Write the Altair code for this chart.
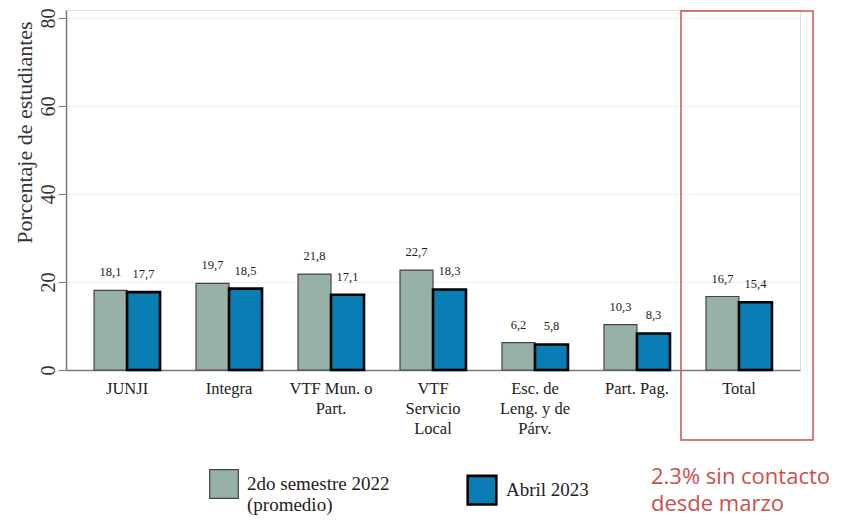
import altair as alt
import pandas as pd

categories = ["JUNJI", "Integra", "VTF Mun. o|Part.", "VTF|Servicio|Local",
              "Esc. de|Leng. y de|Párv.", "Part. Pag.", "Total"]
series_names = ["2do semestre 2022|(promedio)", "Abril 2023"]
values_2022 = [18.1, 19.7, 21.8, 22.7, 6.2, 10.3, 16.7]
values_2023 = [17.7, 18.5, 17.1, 18.3, 5.8, 8.3, 15.4]
y_ticks = [0, 20, 40, 60, 80]
note_lines = ["2.3% sin contacto", "desde marzo"]

rows = []
for i, c in enumerate(categories):
    rows.append({"cat": c, "serie": series_names[0], "v": values_2022[i], "o": i * 2})
    rows.append({"cat": c, "serie": series_names[1], "v": values_2023[i], "o": i * 2 + 1})
df = pd.DataFrame(rows)

FILL_GRAY = "#97b0a8"
FILL_BLUE = "#0a7db4"
SERIF = "Liberation Serif"
RED = "#c9504d"

x_enc = alt.X("cat:N", sort=categories, title=None,
              scale=alt.Scale(paddingInner=0.353, paddingOuter=0.275),
              axis=alt.Axis(labelExpr="split(datum.label, '|')", labelAngle=0,
                            labelFont=SERIF, labelFontSize=16.5, labelColor="#222222",
                            labelPadding=10, labelLineHeight=20, ticks=False,
                            domainColor="#7a7a7a", domainWidth=1.5, grid=False))
xo_enc = alt.XOffset("serie:N", sort=series_names, scale=alt.Scale(paddingInner=0, paddingOuter=0))
y_enc = alt.Y("v:Q", title="Porcentaje de estudiantes",
              scale=alt.Scale(domain=[0, 81.8], nice=False),
              axis=alt.Axis(values=y_ticks, labelAngle=-90, labelAlign="center",
                            labelBaseline="middle", labelFont=SERIF, labelFontSize=20,
                            labelColor="#333333", labelPadding=10, tickSize=8,
                            tickColor="#7a7a7a", domainColor="#7a7a7a", domainWidth=1.5,
                            gridColor="#eeeeee", titleFont=SERIF, titleFontSize=22,
                            titleFontWeight="normal", titleColor="#333333",
                            titleX=-42, titleY=122, titleAngle=-90,
                            titleBaseline="middle", titleAlign="center"))

leg = alt.Legend(title=None, orient="none", direction="horizontal", legendX=143,
                 legendY=459, labelExpr="split(datum.label, '|')", labelFont=SERIF,
                 labelFontSize=19, labelColor="#222222", symbolType="square",
                 symbolSize=820, columnPadding=72, labelOffset=8, labelLimit=300)

bars = alt.Chart(df).mark_bar().encode(
    x=x_enc, xOffset=xo_enc, y=y_enc,
    fill=alt.Fill("serie:N", sort=series_names,
                  scale=alt.Scale(domain=series_names, range=[FILL_GRAY, FILL_BLUE]), legend=leg),
    stroke=alt.Stroke("serie:N", sort=series_names,
                      scale=alt.Scale(domain=series_names, range=["#444444", "#000000"]), legend=leg),
    strokeWidth=alt.StrokeWidth("serie:N", sort=series_names,
                                scale=alt.Scale(domain=series_names, range=[1.2, 2.6]), legend=leg),
)

labels = alt.Chart(df).transform_calculate(
    lab="replace(format(datum.v, '.1f'), '.', ',')"
).mark_text(font=SERIF, fontSize=12.5, color="#222222", baseline="bottom", dy=-11).encode(
    x=x_enc, xOffset=xo_enc, y=y_enc, text="lab:N")

anno = pd.DataFrame({"k": [0]})
box = alt.Chart(anno).mark_rect(fill=None, stroke=RED, strokeWidth=1.5).encode(
    x=alt.value(615), x2=alt.value(747), y=alt.value(1), y2=alt.value(430))
note = alt.Chart(anno).mark_text(text=note_lines, font="Open Sans", fontSize=22, color=RED,
                                 align="left", baseline="alphabetic", lineHeight=27).encode(
    x=alt.value(585), y=alt.value(474))

chart = alt.layer(bars, labels, box, note).properties(
    width=734, height=360,
    autosize=alt.AutoSizeParams(type="none"),
    padding={"left": 58, "top": 2, "right": 34, "bottom": 149},
).configure_view(stroke=None).configure(background="white")

chart.save("out.html", embed_options={"renderer": "svg", "actions": False})
